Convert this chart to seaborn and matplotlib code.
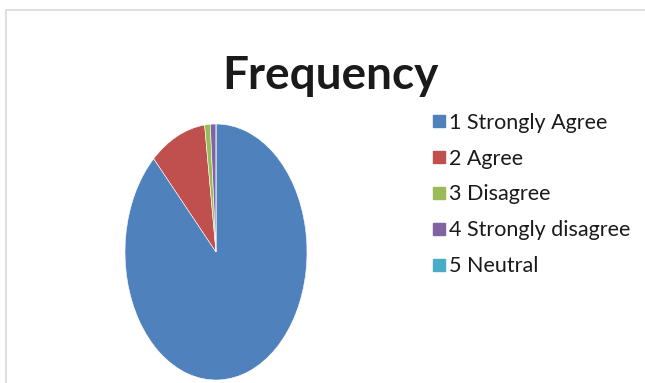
import matplotlib
matplotlib.use('Agg')
import matplotlib.pyplot as plt
import seaborn as sns
from matplotlib.lines import Line2D

# data
labels = ['1 Strongly Agree', '2 Agree', '3 Disagree', '4 Strongly disagree', '5 Neutral']
freq = [88, 10, 1, 1, 0]
colors = ['#4F81BD', '#C0504D', '#9BBB59', '#8064A2', '#4BACC6']

sns.set_theme(style='white')
plt.rcParams['font.family'] = ['Lato', 'DejaVu Sans']

W, H = 645, 383
fig = plt.figure(figsize=(W / 100, H / 100), dpi=100)
fig.patch.set_facecolor('white')

# chart area border (light grey, top and left visible)
border = plt.Rectangle((6 / W, -0.1), 1.2, (H - 10) / H + 0.1, transform=fig.transFigure,
                       fill=False, edgecolor='#d9d9d9', linewidth=1.2)
fig.add_artist(border)

ax = fig.add_axes([125 / W, 3 / H, 182 / W, 256 / H])
ax.pie(freq, colors=colors, startangle=90, counterclock=False,
       wedgeprops=dict(edgecolor='white', linewidth=0.4))
ax.set_aspect('auto')
ax.set_xlim(-1, 1)
ax.set_ylim(-1, 1)
ax.axis('off')

fig.text(330 / W, 1 - 76 / H, 'Frequency', ha='center', va='center',
         fontsize=33, fontweight='bold', color='#1a1a1a')

handles = [Line2D([0], [0], marker='s', linestyle='none', markersize=8,
                  markerfacecolor=c, markeredgecolor=c) for c in colors]
fig.legend(handles, labels, loc='upper left', bbox_to_anchor=(424 / W, 1 - 104 / H),
           frameon=False, fontsize=15.5, handlelength=0.6, handletextpad=0.15,
           labelspacing=0.74, borderaxespad=0, labelcolor='#1a1a1a')

fig.savefig('out.png', dpi=100)
